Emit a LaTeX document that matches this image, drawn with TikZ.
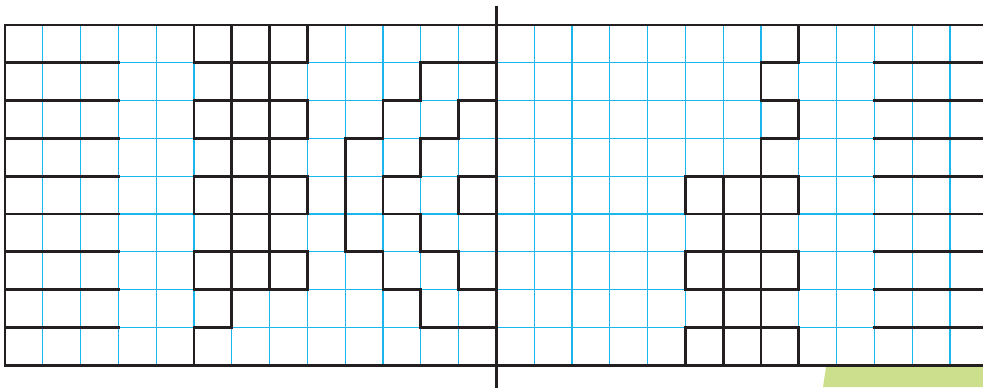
\documentclass[tikz,border=0pt]{standalone}
\definecolor{gridblue}{RGB}{28,182,236}
\definecolor{inkblack}{RGB}{35,31,32}
\definecolor{leafgreen}{RGB}{204,223,141}
\begin{document}
\begin{tikzpicture}[x=1cm,y=1cm,
  gridline/.style={draw=gridblue, line width=0.95pt},
  boldline/.style={draw=inkblack, line width=2pt, line cap=rect, line join=miter}]
\useasboundingbox (-0.132,-0.582) rectangle (25.873,9.661);
% green corner under the grid
\fill[leafgreen] (21.64,-0.582) -- (21.72,-0.05) -- (25.873,-0.05) -- (25.873,-0.582) -- cycle;
% blue squares
\draw[gridline] (0,0) grid (25.873,9);
% frame and centre line
\draw[boldline] (25.873,9) -- (0,9) -- (0,0) -- (25.873,0);
\draw[boldline] (13,9.476) -- (13,-0.6);
% stripes at both ends
\foreach \r in {1,...,8} {
  \draw[boldline] (0,\r) -- (3,\r);
  \draw[boldline] (23,\r) -- (25.9,\r);
}
% left chain of boxes
\foreach \y in {8,6,4,2} {
  \draw[boldline] (5,\y) rectangle (8,\y+1);
}
\draw[boldline] (6,9) -- (6,1) -- (5,1) -- (5,0);
\draw[boldline] (7,9) -- (7,2);
% staircase
\draw[boldline] (13,8) -- (11,8) -- (11,7) -- (10,7) -- (10,6) -- (9,6) -- (9,3) -- (10,3) -- (10,2) -- (11,2) -- (11,1) -- (13,1);
\draw[boldline] (13,7) -- (12,7) -- (12,6) -- (11,6) -- (11,5) -- (10,5) -- (10,4) -- (11,4) -- (11,3) -- (12,3) -- (12,2) -- (13,2);
\draw[boldline] (13,5) -- (12,5) -- (12,4) -- (13,4);
% right chain of boxes
\draw[boldline] (21,9) -- (21,8) -- (20,8) -- (20,7) -- (21,7) -- (21,6) -- (20,6) -- (20,5);
\foreach \y in {4,2,0} {
  \draw[boldline] (18,\y) rectangle (21,\y+1);
}
\draw[boldline] (19,0) -- (19,5);
\draw[boldline] (20,0) -- (20,5);
\end{tikzpicture}
\end{document}
